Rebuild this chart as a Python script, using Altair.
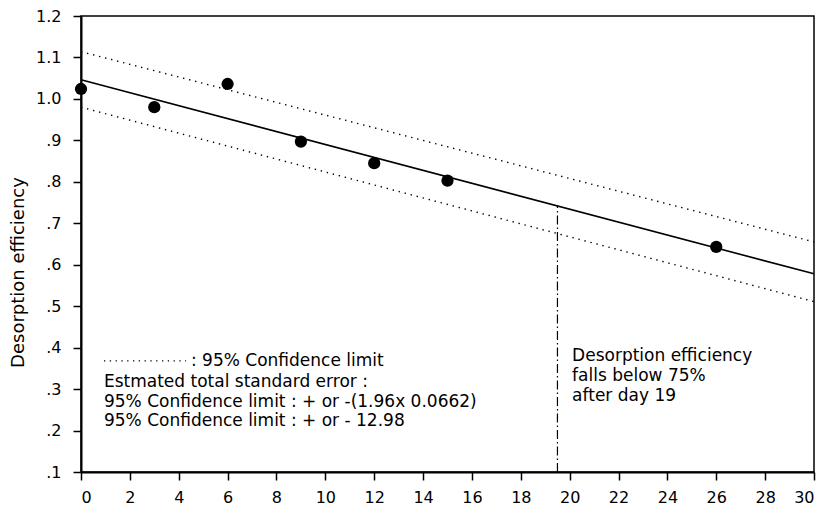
import altair as alt
import pandas as pd

# measured data points (day, desorption efficiency)
days = [0, 3, 6, 9, 12, 15, 26]
efficiency = [1.024, 0.980, 1.036, 0.897, 0.845, 0.803, 0.643]

# regression line and 95% confidence limits (endpoints)
line_x = [0, 30]
fit_y = [1.046, 0.578]
upper_y = [1.114, 0.655]
lower_y = [0.980, 0.511]

# day where efficiency falls below 75%
cut_x = [19.5, 19.5]
cut_y = [0.1, 0.744]

x_ticks = list(range(0, 31, 2))
y_ticks = [0.1, 0.2, 0.3, 0.4, 0.5, 0.6, 0.7, 0.8, 0.9, 1.0, 1.1, 1.2]

legend_lines = [
    "Estmated total standard error :",
    "95% Confidence limit : + or -(1.96x 0.0662)",
    "95% Confidence limit : + or - 12.98",
]
legend_line_y = [0.318, 0.270, 0.224]
legend_text_x = 0.94
legend_dot_x = [0.94, 4.3]
legend_dot_y = 0.368
legend_dot_label = ": 95% Confidence limit"

note_lines = ["Desorption efficiency", "falls below 75%", "after day 19"]
note_y = [0.380, 0.332, 0.284]
note_x = 20.1

FONT = "DejaVu Sans"

xs = alt.Scale(domain=[0, 30], nice=False, zero=False)
ys = alt.Scale(domain=[0.1, 1.2], nice=False, zero=False)

pts_df = pd.DataFrame({"day": days, "eff": efficiency})
lines_df = pd.DataFrame({
    "day": line_x * 3,
    "val": fit_y + upper_y + lower_y,
    "kind": ["fit"] * 2 + ["upper"] * 2 + ["lower"] * 2,
})

x_axis = alt.Axis(values=x_ticks, format="d", title=None, grid=False,
                  labelFont=FONT, labelFontSize=16, labelColor="black",
                  labelPadding=9, tickSize=8, tickColor="black", tickWidth=1.5,
                  domainColor="black", domainWidth=2)
y_axis = alt.Axis(values=y_ticks, title="Desorption efficiency", grid=False,
                  labelExpr="datum.value >= 0.999 ? format(datum.value, '.1f') : replace(format(datum.value, '.1f'), '0.', '.')",
                  labelFont=FONT, labelFontSize=16, labelColor="black",
                  labelPadding=12, tickSize=8, tickColor="black", tickWidth=1.5,
                  domainColor="black", domainWidth=2,
                  titleFont=FONT, titleFontSize=18, titleFontWeight="normal",
                  titleColor="black", titleAngle=270, titleX=-63, titleY=256,
                  titleAlign="center", titleBaseline="middle")

fit = alt.Chart(lines_df).transform_filter(alt.datum.kind == "fit").mark_line(
    color="black", strokeWidth=1.6).encode(
    x=alt.X("day:Q", scale=xs, axis=x_axis),
    y=alt.Y("val:Q", scale=ys, axis=y_axis),
)

ci = alt.Chart(lines_df).transform_filter(alt.datum.kind != "fit").mark_line(
    color="black", strokeWidth=1.4, strokeDash=[1.4, 4.8]).encode(
    x=alt.X("day:Q", scale=xs),
    y=alt.Y("val:Q", scale=ys),
    detail="kind:N",
)

cut_df = pd.DataFrame({"day": cut_x, "val": cut_y})
cut = alt.Chart(cut_df).mark_line(color="black", strokeWidth=1.2,
                                  strokeDash=[9, 3, 1.5, 3]).encode(
    x=alt.X("day:Q", scale=xs),
    y=alt.Y("val:Q", scale=ys),
)

points = alt.Chart(pts_df).mark_point(filled=True, color="black", opacity=1,
                                      size=150, shape="circle").encode(
    x=alt.X("day:Q", scale=xs),
    y=alt.Y("eff:Q", scale=ys),
)

leg_dot_df = pd.DataFrame({"day": legend_dot_x, "val": [legend_dot_y] * 2})
leg_dot = alt.Chart(leg_dot_df).mark_line(color="black", strokeWidth=1.3,
                                          strokeDash=[1.3, 4.5]).encode(
    x=alt.X("day:Q", scale=xs),
    y=alt.Y("val:Q", scale=ys),
)

leg_lab_df = pd.DataFrame({"day": [legend_dot_x[1] + 0.2], "val": [legend_dot_y],
                           "t": [legend_dot_label]})
leg_lab = alt.Chart(leg_lab_df).mark_text(align="left", baseline="middle",
                                          font=FONT, fontSize=17, color="black").encode(
    x=alt.X("day:Q", scale=xs),
    y=alt.Y("val:Q", scale=ys),
    text="t:N",
)

leg_df = pd.DataFrame({"day": [legend_text_x] * 3, "val": legend_line_y, "t": legend_lines})
leg = alt.Chart(leg_df).mark_text(align="left", baseline="middle",
                                  font=FONT, fontSize=17, color="black").encode(
    x=alt.X("day:Q", scale=xs),
    y=alt.Y("val:Q", scale=ys),
    text="t:N",
)

note_df = pd.DataFrame({"day": [note_x] * 3, "val": note_y, "t": note_lines})
note = alt.Chart(note_df).mark_text(align="left", baseline="middle",
                                    font=FONT, fontSize=17, color="black").encode(
    x=alt.X("day:Q", scale=xs),
    y=alt.Y("val:Q", scale=ys),
    text="t:N",
)

chart = alt.layer(fit, ci, cut, points, leg_dot, leg_lab, leg, note).properties(
    width=733, height=456,
    autosize=alt.AutoSizeParams(type="none"),
    padding={"left": 81, "top": 16, "right": 12, "bottom": 49},
    background="white",
).configure_view(stroke="black", strokeWidth=1.5)

chart.save("out.html", embed_options={"renderer": "svg", "actions": False})
